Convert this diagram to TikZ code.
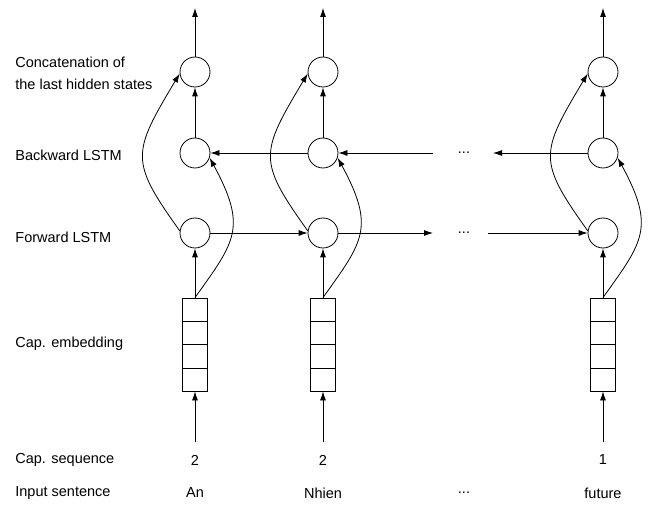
\documentclass[tikz,border=0pt]{standalone}
\usepackage{fontspec}
\setmainfont{Liberation Sans}
\usetikzlibrary{arrows.meta,calc}
\begin{document}
\begin{tikzpicture}[x=1pt,y=-1pt,line width=0.8pt,
  cell/.style={circle,draw,minimum size=30pt,inner sep=0pt},
  emb/.style={rectangle,draw,minimum width=25pt,minimum height=93pt,inner sep=0pt},
  lbl/.style={anchor=west,inner sep=0pt,font=\fontsize{14.5}{22}\selectfont,align=left},
  txt/.style={inner sep=0pt,font=\fontsize{14.5}{17}\selectfont},
  arr/.style={-{Latex[length=9pt,width=6pt]}}]
\useasboundingbox (0,0) rectangle (654,505);
% left labels
\node[lbl] (l1) at (15,73) {Concatenation of\\the last hidden states};
\node[lbl] (l2) at (15,155) {Backward LSTM};
\node[lbl] (l3) at (15,237) {Forward LSTM};
\node[lbl] (l4) at (15,344) {Cap. embedding};
\node[lbl] (l5) at (15,460) {Cap. sequence};
\node[lbl] (l6) at (15,493) {Input sentence};
% columns
\foreach \n/\x/\num/\w in {a/195/2/An, b/323/2/Nhien, c/603/1/future}{
  \node[cell] (c\n) at (\x,72) {};
  \node[cell] (b\n) at (\x,153) {};
  \node[cell] (f\n) at (\x,233) {};
  \node[emb] (e\n) at (\x,344.5) {};
  \foreach \k in {0.25,0.5,0.75}
    \draw ($(e\n.north west)!\k!(e\n.south west)$) -- ($(e\n.north east)!\k!(e\n.south east)$);
  \coordinate (top\n) at (\x,8);
  \coordinate (src\n) at (\x,442);
  \node[txt] (s\n) at (\x,460) {\num};
  \node[txt] (w\n) at (\x,493) {\w};
  \draw[arr] (c\n) -- (top\n);
  \draw[arr] (b\n) -- (c\n);
  \draw[arr] (e\n) -- (f\n);
  \draw[arr] (src\n) -- (e\n);
  \coordinate (p\n) at (f\n.172);
  \coordinate (q\n) at (c\n.186);
  \draw[arr] (p\n) .. controls ($(p\n)+(-50,-70)$) and ($(q\n)+(-48,80)$) .. (q\n);
  \coordinate (u\n) at (e\n.north);
  \coordinate (v\n) at (b\n.-18);
  \draw[arr] (u\n) .. controls ($(u\n)+(40,-56)$) and ($(v\n)+(38,70)$) .. (v\n);
}
% dots
\node[txt] (d1) at (464,153) {...};
\node[txt] (d2) at (464,233) {...};
\node[txt] (d3) at (464,493) {...};
\coordinate (bl) at (433,153);
\coordinate (br) at (493,153);
\coordinate (fl) at (433,233);
\coordinate (fr) at (488,233);
% horizontal connectors
\draw[arr] (bb) -- (ba);
\draw[arr] (bl) -- (bb);
\draw[arr] (bc) -- (br);
\draw[arr] (fa) -- (fb);
\draw[arr] (fb) -- (fl);
\draw[arr] (fr) -- (fc);
\end{tikzpicture}
\end{document}
